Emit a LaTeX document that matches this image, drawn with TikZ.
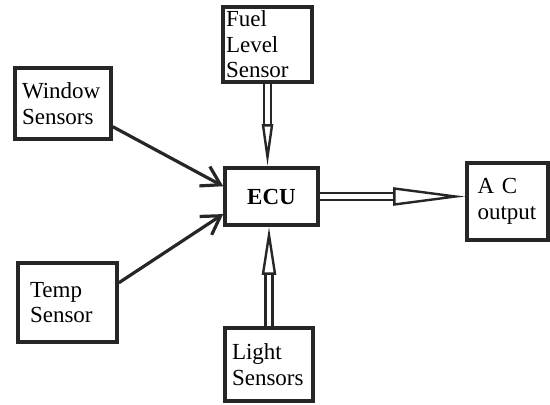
\documentclass[tikz,border=0pt]{standalone}
\usepackage{fontspec}
\setmainfont{Liberation Serif}
\usetikzlibrary{arrows.meta, positioning}
\begin{document}
\begin{tikzpicture}[x=0.5pt, y=-0.5pt, font=\fontsize{11.5}{12.8}\selectfont,
    box/.style={draw=black!85, line width=1.8pt, align=left, inner ysep=0pt},
    dbl/.style={draw=black!85, line width=1.2pt, double=white, double distance=2.2pt},
    feed/.style={draw=black!85, line width=1.6pt, -{Straight Barb[length=9pt, width=11pt]}}]
    \useasboundingbox (0,0) rectangle (550,405);
    % sensors and ECU
    \node[box, text width=41.5pt, inner xsep=1.5pt, minimum height=37.5pt] (fuel) at (267.5,44.5) {Fuel\\Level\\Sensor};
    \node[box, text width=41pt, inner xsep=3.5pt, minimum height=35.5pt] (window) at (63,103.5) {Window\\Sensors};
    \node[box, minimum width=46.5pt, minimum height=28.5pt, align=center] (ecu) at (271.5,196.5) {\textbf{ECU}};
    \node[box, text width=30pt, inner xsep=5.25pt, minimum height=38.5pt] (ac) at (507.5,201.5) {A C\\output};
    \node[box, text width=37.5pt, inner xsep=6pt, minimum height=39.5pt] (temp) at (67.5,302.5) {Temp\\Sensor};
    \node[box, text width=37pt, inner xsep=3.5pt, minimum height=36.5pt] (light) at (269,364.5) {Light\\Sensors};
    % connectors
    \draw[feed] (window.-25) -- (ecu.168);
    \draw[feed] (temp.21) -- (ecu.200);
    \draw[dbl, -{Triangle[open, length=21pt, width=5.5pt]}] (fuel.south) -- (fuel.south |- ecu.north);
    \draw[dbl, -{Triangle[open, length=24pt, width=7pt]}] (light.north) -- (light.north |- ecu.south);
    \draw[dbl, -{Triangle[open, length=36pt, width=9pt]}] (ecu.east) -- (ecu.east -| ac.west);
\end{tikzpicture}
\end{document}
